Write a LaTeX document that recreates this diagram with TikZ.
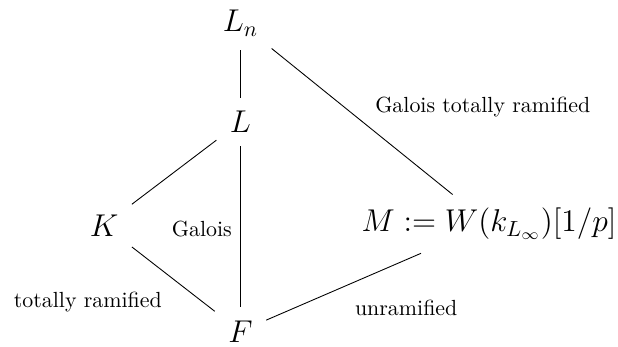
\documentclass[tikz,border=0pt]{standalone}
\usepackage{amsmath}
\begin{document}
\begin{tikzpicture}[campo/.style={font=\Large, inner sep=6pt, anchor=base},
                    etichetta/.style={anchor=base}]
  \useasboundingbox (0,0) rectangle (9.92,-5.57);
  % Nodi
  \node[campo] (Ln) at (3.86,-0.51) {$L_n$};
  \node[campo] (L) at (3.86,-2.13) {$L$};
  \node[campo] (K) at (1.67,-3.79) {$K$};
  \node[campo] (F) at (3.86,-5.49) {$F$};
  \node[campo] (M) at (7.85,-3.72) {$M := W(k_{L_\infty})[1/p]$};

  % Etichette
  \node[etichetta] (galtot) at (7.75,-1.80) {Galois totally ramified};
  \node[etichetta] (gal) at (3.24,-3.80) {Galois};
  \node[etichetta] (totram) at (1.41,-4.93) {totally ramified};
  \node[etichetta] (unram) at (6.52,-5.06) {unramified};

  % Archi
  \draw (Ln) -- (L);
  \draw (Ln) -- (M);
  \draw (L) -- (K);
  \draw (L) -- (F);
  \draw (K) -- (F);
  \draw (M) -- (F);
\end{tikzpicture}
\end{document}
